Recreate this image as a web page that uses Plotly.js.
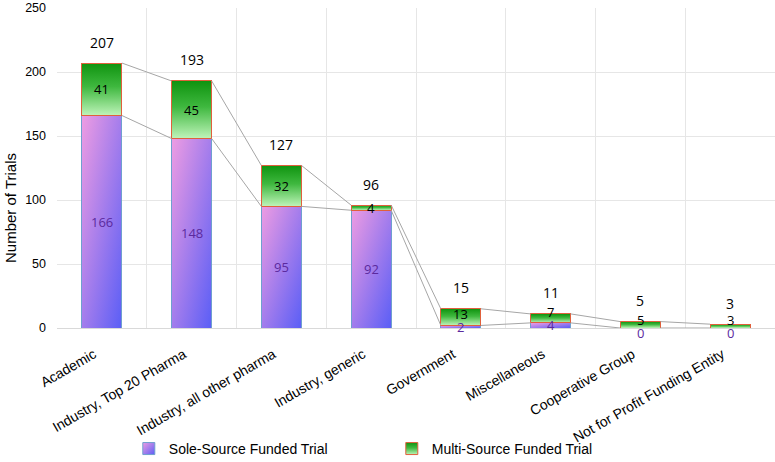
<!DOCTYPE html>
<html>
<head>
<meta charset="utf-8">
<script src="https://cdn.plot.ly/plotly-3.0.1.min.js"></script>
<style>
html,body{margin:0;padding:0;background:#fff;}
#chart{width:775px;height:462px;}
</style>
</head>
<body>
<div id="chart"></div>
<script>
// ---- data ----
var categories = ["Academic", "Industry, Top 20 Pharma", "Industry, all other pharma", "Industry, generic",
                  "Government", "Miscellaneous", "Cooperative Group", "Not for Profit Funding Entity"];
var soleSource = [166, 148, 95, 92, 2, 4, 0, 0];
var multiSource = [41, 45, 32, 4, 13, 7, 5, 3];
var seriesNames = ["Sole-Source Funded Trial", "Multi-Source Funded Trial"];
var yTickVals = [0, 50, 100, 150, 200, 250];

// ---- layout constants ----
var W = 775, H = 462;
var M = {l: 57, r: 0, t: 8, b: 134};
var yMax = 250;
var pxPerUnit = (H - M.t - M.b) / yMax;

// ---- derived ----
var idx = categories.map(function(c, i){ return i; });
var totals = soleSource.map(function(v, i){ return v + multiSource[i]; });
var barWidth = 0.447;
var half = barWidth / 2;

function connector(vals){
  var xs = [], ys = [];
  for (var i = 0; i < vals.length - 1; i++){
    xs.push(i + half, i + 1 - half, null);
    ys.push(vals[i], vals[i + 1], null);
  }
  return {x: xs, y: ys};
}
var cSole = connector(soleSource);
var cTot = connector(totals);

var traces = [
  {type: 'bar', name: seriesNames[0], x: idx, y: soleSource, width: barWidth,
   marker: {color: '#a77ce8', line: {color: '#6f9fcf', width: 1}}, hoverinfo: 'none'},
  {type: 'bar', name: seriesNames[1], x: idx, y: multiSource, width: barWidth,
   marker: {color: '#3cb43c', line: {color: '#e0603c', width: 1}}, hoverinfo: 'none'},
  {type: 'scatter', mode: 'lines', x: cSole.x, y: cSole.y, showlegend: false, hoverinfo: 'none',
   line: {color: '#a6a6a6', width: 1}},
  {type: 'scatter', mode: 'lines', x: cTot.x, y: cTot.y, showlegend: false, hoverinfo: 'none',
   line: {color: '#a6a6a6', width: 1}}
];

var labelFont = 'Open Sans, Noto Sans, sans-serif';
var annotations = [];
idx.forEach(function(i){
  var s = soleSource[i], m = multiSource[i];
  // sole-source label (centred in its segment, dropped below axis when empty)
  var soleShift = s > 0 ? 0 : -5;
  var soleCenterPx = (s / 2) * pxPerUnit + soleShift;        // px above axis
  annotations.push({x: i, y: s / 2, xref: 'x', yref: 'y', text: String(s), showarrow: false,
    yshift: soleShift, font: {family: labelFont, size: 13, color: '#5b2a9e'}});
  // multi-source label: centred, but kept at least 13px above the sole label
  var mCenterPx = (s + m / 2) * pxPerUnit;
  var mShift = Math.max(0, soleCenterPx + 13 - mCenterPx);
  annotations.push({x: i, y: s + m / 2, xref: 'x', yref: 'y', text: String(m), showarrow: false,
    yshift: mShift, font: {family: labelFont, size: 13, color: '#000000'}});
  // total label above bar
  annotations.push({x: i, y: totals[i], xref: 'x', yref: 'y', text: String(totals[i]), showarrow: false,
    yshift: 21, font: {family: labelFont, size: 14, color: '#000'}});
});
// y-axis title as rotated text
annotations.push({xref: 'paper', yref: 'paper', x: (10 - M.l) / (W - M.l - M.r), y: 0.375,
  xanchor: 'center', yanchor: 'middle', textangle: -90, showarrow: false, text: 'Number of Trials',
  font: {family: 'Liberation Sans, Arial, sans-serif', size: 15, color: '#000'}});

var layout = {
  width: W, height: H,
  margin: {l: M.l, r: M.r, t: M.t, b: M.b, autoexpand: false},
  paper_bgcolor: '#ffffff', plot_bgcolor: '#ffffff',
  barmode: 'stack',
  showlegend: true,
  legend: {orientation: 'h', x: 0.1, xanchor: 'left', y: -0.378, yanchor: 'middle',
           bgcolor: 'rgba(0,0,0,0)', borderwidth: 0,
           traceorder: 'normal', entrywidth: 218, entrywidthmode: 'pixels',
           font: {family: 'Liberation Sans, Arial, sans-serif', size: 14, color: '#000'}},
  xaxis: {type: 'linear', range: [-0.5, categories.length - 0.5], tickmode: 'array',
          tickvals: idx, ticktext: categories, tickangle: -30, showgrid: false, zeroline: false,
          ticks: '', automargin: false, fixedrange: true, ticklabelstandoff: 12, ticklabelshift: -8,
          showline: true, linecolor: '#d9d9d9', linewidth: 1,
          minor: {tickmode: 'linear', tick0: -0.5, dtick: 1, showgrid: true, gridcolor: '#e6e6e6', gridwidth: 1, ticks: ''},
          tickfont: {family: 'Liberation Sans, Arial, sans-serif', size: 14, color: '#000'}},
  yaxis: {range: [0, yMax], tickmode: 'array', tickvals: yTickVals, showgrid: true, gridcolor: '#e6e6e6',
          zeroline: false, automargin: false, fixedrange: true, ticks: '', ticklabelstandoff: 10,
          tickfont: {family: 'Liberation Sans, Arial, sans-serif', size: 12.5, color: '#000'}},
  annotations: annotations
};

Plotly.newPlot('chart', traces, layout, {displayModeBar: false, staticPlot: true}).then(function(gd){
  var svg = gd.querySelector('.main-svg');
  var ns = 'http://www.w3.org/2000/svg';
  var defs = svg.querySelector('defs') || svg.insertBefore(document.createElementNS(ns, 'defs'), svg.firstChild);
  function grad(id, x1, y1, x2, y2, stops){
    var g = document.createElementNS(ns, 'linearGradient');
    g.setAttribute('id', id);
    g.setAttribute('x1', x1); g.setAttribute('y1', y1);
    g.setAttribute('x2', x2); g.setAttribute('y2', y2);
    stops.forEach(function(s){
      var st = document.createElementNS(ns, 'stop');
      st.setAttribute('offset', s[0]); st.setAttribute('stop-color', s[1]);
      g.appendChild(st);
    });
    defs.appendChild(g);
  }
  grad('gSole', 0, 0, 1, 1, [[0, '#ee9ce2'], [1, '#5a5ef6']]);
  grad('gMulti', 0, 0, 0, 1, [[0, '#0f930f'], [0.45, '#3fb83f'], [1, '#bff4ba']]);
  var ids = ['gSole', 'gMulti'];
  var barTraces = gd.querySelectorAll('.barlayer .trace.bars');
  barTraces.forEach(function(t, k){
    t.querySelectorAll('.point path').forEach(function(p){ p.style.fill = 'url(#' + ids[k] + ')'; });
  });
  var legItems = gd.querySelectorAll('.legend .traces');
  legItems.forEach(function(t, k){
    if (k < 2) t.querySelectorAll('.legendpoints path').forEach(function(p){ p.style.fill = 'url(#' + ids[k] + ')'; });
  });
});
</script>
</body>
</html>
